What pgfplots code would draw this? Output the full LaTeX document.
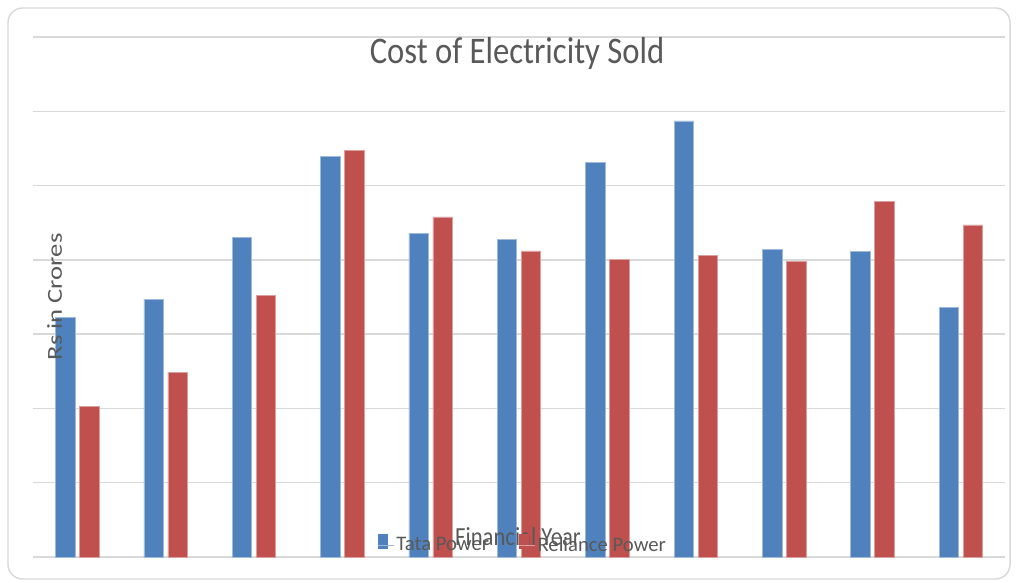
\documentclass[border=0pt]{standalone}
\usepackage{pgfplots}
\pgfplotsset{compat=1.18}
\usepackage{pgfplotstable}
\usepackage{graphicx}
\usepackage{fontspec}
\setmainfont{Carlito}

\definecolor{tatablue}{HTML}{4F81BD}
\definecolor{relred}{HTML}{C0504D}
\definecolor{gridgray}{HTML}{D9D9D9}
\definecolor{textgray}{HTML}{595959}

% cost of electricity sold (grid steps, no tick labels in source)
\pgfplotstableread{
idx tata reliance
0  3.23 2.03
1  3.47 2.49
2  4.30 3.52
3  5.39 5.47
4  4.36 4.58
5  4.28 4.12
6  5.31 4.01
7  5.87 4.06
8  4.14 3.98
9  4.11 4.79
10 3.36 4.47
}\costdata

\begin{document}
\begin{tikzpicture}
\begin{axis}[
    scale only axis,
    width=729pt, height=390pt,
    at={(0,0)}, anchor=south west,
    ybar=3.4pt, bar width=14.6pt,
    xmin=-0.5, xmax=10.5,
    ymin=0, ymax=7,
    xtick=\empty,
    ytick={0,1,...,7}, yticklabels={},
    major tick length=0pt,
    ymajorgrids,
    grid style={gridgray, line width=1.1pt},
    axis line style={draw=none},
    title={\scalebox{1}[1.15]{Cost of Electricity Sold}},
    title style={at={(axis description cs:0.498,1)}, anchor=base, yshift=-26pt,
                 text=textgray, font=\fontsize{24.5}{28}\selectfont},
    xlabel={\scalebox{1}[1.15]{Financial Year}},
    every axis x label/.style={at={(axis description cs:0.499,0)}, anchor=base, yshift=8.5pt,
                 text=textgray, font=\fontsize{17}{20}\selectfont},
    ylabel={\scalebox{1.25}[1]{Rs in Crores}},
    every axis y label/.style={at={(axis description cs:0.0298,0.5)}, rotate=90, anchor=base,
                 text=textgray, font=\fontsize{16}{19}\selectfont},
    legend style={at={(axis description cs:0.504,0)}, anchor=south, yshift=0.5pt,
                 draw=none, fill=none, inner sep=0pt, legend columns=2,
                 text=textgray, font=\fontsize{15.5}{18}\selectfont,
                 /tikz/every even column/.append style={column sep=20pt}},
    legend image code/.code={\fill[#1, draw=none] (0pt,-2.5pt) rectangle (8pt,8.5pt); \path (0pt,0pt) -- (12pt,0pt);},
]
\addplot[fill=tatablue, draw=tatablue!55!white, line width=0.4pt] table[x=idx, y=tata] {\costdata};
\addplot[fill=relred, draw=relred!55!white, line width=0.4pt] table[x=idx, y=reliance] {\costdata};
\legend{Tata Power, Reliance Power}
\end{axis}
\draw[gridgray, line width=1.1pt, rounded corners=11pt] (-18.75pt,-16.5pt) rectangle (732.75pt,411.75pt);
\pgfresetboundingbox
\useasboundingbox (-24.75pt,-18.75pt) rectangle (737.25pt,417.75pt);
\end{tikzpicture}
\end{document}
